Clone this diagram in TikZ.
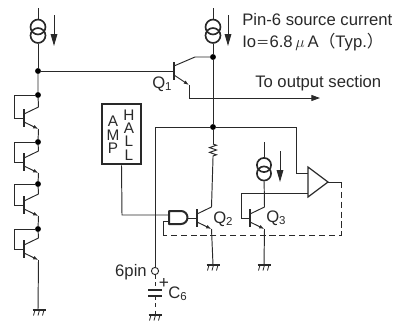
\documentclass[tikz,border=0pt]{standalone}
\usepackage{fontspec}
\setmainfont{Liberation Sans}
\newfontfamily\cjkfont{Noto Sans CJK JP}
\usetikzlibrary{arrows.meta}
\usetikzlibrary{decorations.pathmorphing}
\definecolor{ink}{gray}{0.16}
\tikzset{
  wire/.style={line width=.72pt,draw=ink},
  fb/.style={wire,dash pattern=on 4.6pt off 2.8pt},
  bar/.style={draw=ink,line width=1.5pt},
  jdot/.style={circle,fill=black,inner sep=0pt,minimum size=4.4pt},
  ringc/.style={circle,draw=ink,line width=1.25pt,inner sep=0pt},
  lbl/.style={inner sep=0pt,text=ink,font=\fontsize{12.5pt}{14pt}\selectfont},
  curarrow/.style={wire,-{Triangle[length=9pt,width=5pt]}},
  emit/.style={wire,-{Latex[length=4pt,width=2.8pt]}}
}
\newcommand{\lowsub}[1]{\raisebox{-.12em}{\fontsize{8.6pt}{9pt}\selectfont #1}}
% current source: name, x, y of upper ring
\newcommand{\cursrc}[4][11.2pt]{%
  \node[ringc,minimum size=#1] (#2t) at (#3,#4) {};
  \node[ringc,minimum size=#1] (#2b) at (#3,#4+8.5) {};
}
% transistor: name, x of bar, y of base
\newcommand{\npn}[3]{%
  \coordinate (#1) at (#2,#3);
  \coordinate (#1c) at (#2+14.5,#3-11);
  \coordinate (#1e) at (#2+14.5,#3+11);
  \draw[bar] (#2,#3-9) -- (#2,#3+9);
  \draw[wire] (#2,#3-4) -- (#1c);
  \draw[emit] (#2,#3+4) -- (#1e);
}
\newcommand{\gnd}[3]{%
  \coordinate (#1) at (#2,#3);
  \draw[wire,line width=1.1pt] (#2-6.5,#3) -- (#2+6.5,#3);
  \foreach \dx in {-4,0.5,5}
    \draw[wire,line width=.6pt] (#2+\dx,#3) -- (#2+\dx-1.5,#3+5.5);
}
\begin{document}
\begin{tikzpicture}[x=.75pt,y=-.75pt]
\useasboundingbox (0,0) rectangle (400,322);

% left branch
\cursrc{srca}{38}{27}
\coordinate (srcatop) at (38,8);
\draw[wire] (srcatop) -- (srcat);
\coordinate (arra1) at (54,15);
\coordinate (arra2) at (54,46);
\draw[curarrow] (arra1) -- (arra2);
\node[jdot] (j0) at (38,71) {};
\draw[wire] (srcab) -- (j0);
\node[jdot] (j1) at (38,95) {};
\node[jdot] (j2) at (38,142) {};
\node[jdot] (j3) at (38,184) {};
\node[jdot] (j4) at (38,229) {};
\npn{ta}{24}{118}
\npn{tb}{24}{162}
\npn{tc}{24}{205}
\npn{td}{24}{249}
\draw[wire] (j0) -- (j1) -- (tac);
\draw[wire] (tae) -- (j2) -- (tbc);
\draw[wire] (tbe) -- (j3) -- (tcc);
\draw[wire] (tce) -- (j4) -- (tdc);
\draw[wire] (j1) -- (14,95) -- (14,118) -- (ta);
\draw[wire] (j2) -- (14,142) -- (14,162) -- (tb);
\draw[wire] (j3) -- (14,184) -- (14,205) -- (tc);
\draw[wire] (j4) -- (14,229) -- (14,249) -- (td);
\gnd{gnda}{39}{310}
\draw[wire] (tde) -- (38,310);

% Q1 and right supply
\cursrc{srcb}{213}{27}
\coordinate (srcbtop) at (213,8);
\draw[wire] (srcbtop) -- (srcbt);
\coordinate (arrb1) at (228,15);
\coordinate (arrb2) at (228,46);
\draw[curarrow] (arrb1) -- (arrb2);
\node[jdot] (j5) at (213,57) {};
\node[jdot] (j6) at (213,127) {};
\coordinate (qone) at (174,71);
\draw[bar] (174,62) -- (174,80);
\draw[wire] (j0) -- (qone);
\coordinate (qonec) at (195,57);
\coordinate (qonee) at (189,85);
\coordinate (qoneo) at (189,98);
\coordinate (outend) at (320,98);
\draw[wire] (174,66) -- (qonec) -- (j5);
\draw[emit] (174,75) -- (qonee);
\draw[wire,-{Triangle[length=6.5pt,width=4.5pt]}] (qonee) -- (qoneo) -- (outend);
\draw[wire] (srcbb) -- (j5) -- (j6);

% top rail
\coordinate (railw) at (155,127);
\coordinate (raile) at (296,127);
\coordinate (cmpa) at (308,173);
\draw[wire] (railw) -- (j6) -- (raile) -- (296,173) -- (cmpa);

% Q2
\npn{qtwo}{197}{218}
\coordinate (resa) at (213,144);
\coordinate (resb) at (213,158);
\draw[wire] (j6) -- (resa);
\draw[wire,decorate,decoration={zigzag,amplitude=2.6pt,segment length=3.6pt}] (resa) -- (resb);
\draw[wire] (resb) -- (qtwoc);
\gnd{gndb}{213}{265}
\draw[wire] (qtwoe) -- (gndb);

% Q3
\cursrc[10.6pt]{srcc}{264}{165}
\coordinate (srcctop) at (264,142);
\draw[wire] (srcctop) -- (srcct);
\coordinate (arrc1) at (280,151);
\coordinate (arrc2) at (280,182);
\draw[curarrow] (arrc1) -- (arrc2);
\npn{qthree}{250}{218}
\draw[wire] (srccb) -- (qthreec);
\gnd{gndc}{264}{265}
\draw[wire] (qthreee) -- (gndc);
\coordinate (cmpb) at (308,193);
\draw[wire] (qthree) -- (241,218) -- (241,193) -- (cmpb);

% comparator
\draw[wire,line width=.9pt] (308,167) -- (328,182) coordinate (cmpo) -- (308,197) -- cycle;
\coordinate (fba) at (341,182);
\coordinate (fbb) at (341,235);
\coordinate (fbc) at (163,235);
\coordinate (gatec) at (169,221);
\draw[wire] (cmpo) -- (fba);
\draw[fb] (fba) -- (fbb) -- (fbc);
\draw[wire] (fbc) -- (163,221) -- (gatec);

% gate
\draw[bar,line join=round] (169,211) -- (181,211) arc[start angle=-90,end angle=90,radius=6.5] -- (169,224) -- cycle;
\coordinate (gateo) at (188,218);
\draw[wire] (gateo) -- (qtwo);

% amp box
\node[draw=ink,line width=1.9pt,minimum width=29pt,minimum height=45pt,inner sep=0pt] (ampbox) at (121.5,134) {};
\node[inner sep=0pt,text=ink,align=center,font=\fontsize{11.5pt}{10pt}\selectfont] (amptxt) at (113,135) {A\\M\\P};
\node[inner sep=0pt,text=ink,align=center,font=\fontsize{11.5pt}{10pt}\selectfont] (halltxt) at (129,135) {H\\A\\L\\L};
\coordinate (gatea) at (169,215);
\draw[wire] (ampbox.south) -- (122,215) -- (gatea);

% 6pin and capacitor
\node[circle,draw=ink,line width=.7pt,inner sep=0pt,minimum size=5.4pt] (pinsix) at (155,271) {};
\draw[wire] (railw) -- (pinsix);
\coordinate (capa) at (155,290);
\coordinate (capb) at (155,296);
\draw[fb,dash pattern=on 3pt off 2.5pt] (pinsix) -- (capa);
\draw[wire,line width=1.1pt] (148,290) -- (162,290);
\draw[wire,line width=1.5pt] (148,296) -- (162,296);
\gnd{gndd}{155}{315}
\draw[fb,dash pattern=on 3pt off 2.5pt] (capb) -- (gndd);
\node[inner sep=0pt,text=ink,font=\fontsize{13pt}{13pt}\selectfont] (plus) at (164,283) {+};

% labels
\node[lbl,anchor=west] (qonelbl) at (152,84) {Q\lowsub{1}};
\node[lbl,anchor=west] (qtwolbl) at (213,219) {Q\lowsub{2}};
\node[lbl,anchor=west] (qthreelbl) at (266,218) {Q\lowsub{3}};
\node[lbl,anchor=west] (csixlbl) at (168,294) {C\lowsub{6}};
\node[lbl,anchor=east] (pinlbl) at (147,272) {6pin};
\node[lbl,anchor=west] (srclbl) at (242,20) {Pin-6 source current};
\node[lbl,anchor=west] (iolbl) at (242,42) {Io{\cjkfont\fontsize{10pt}{10pt}\selectfont ＝}6.8\,$\mu$\,A{\cjkfont （}Typ.{\cjkfont ）}};
\node[lbl,anchor=west] (outlbl) at (255,83) {To output section};
\end{tikzpicture}
\end{document}
